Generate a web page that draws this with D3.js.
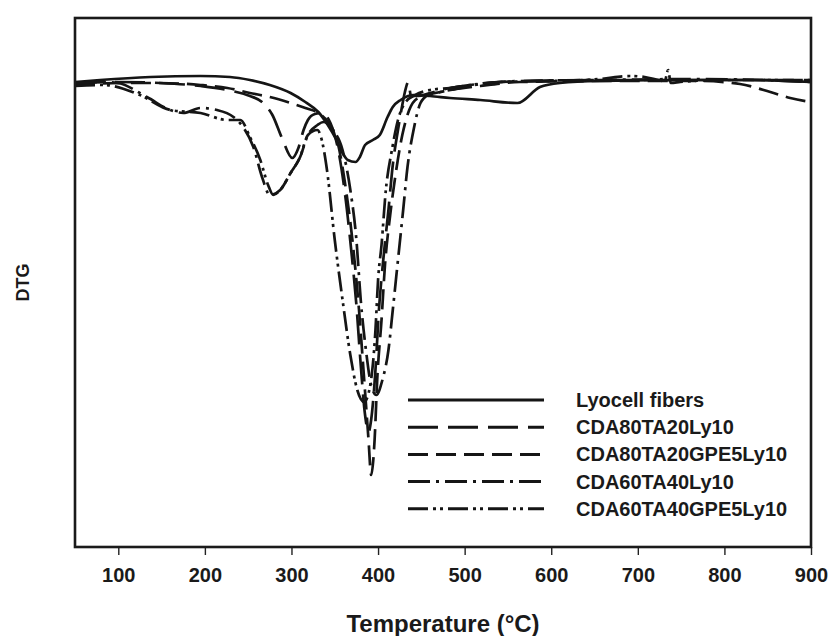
<!DOCTYPE html>
<html>
<head>
<meta charset="utf-8">
<script src="https://cdn.jsdelivr.net/npm/d3@7"></script>
<style>
  html, body { margin: 0; padding: 0; background: #fff; }
  svg { display: block; }
  text { font-family: "Liberation Sans", Arial, sans-serif; font-weight: bold; fill: #1a1a1a; }
</style>
</head>
<body>
<svg id="chart" width="829" height="636"></svg>
<script>
// DTG curves (arbitrary units, 0 = flat baseline) against temperature in °C
const lyocellT   = [50,79,137,195,229,252,275,299,316,331,342,352,359,365,374,379,385,394,402,411,417,426,441,460,483,518,561,587,610,656,772,830,900];
const lyocellDTG = [-0.02,0,0.03,0.04,0.03,0,-0.05,-0.13,-0.22,-0.32,-0.45,-0.60,-0.73,-0.80,-0.82,-0.77,-0.65,-0.60,-0.55,-0.37,-0.27,-0.20,-0.15,-0.16,-0.18,-0.20,-0.23,-0.07,-0.03,-0.01,0,0,-0.02];

const cda80T   = [50,102,148,195,226,252,266,278,289,301,308,314,319,327,335,345,354,362,369,375,380,385,389,392,397,401,406,412,417,423,428,431,435,438,446,460,483,506,541,656,772,900];
const cda80DTG = [-0.03,-0.02,-0.03,-0.06,-0.10,-0.16,-0.22,-0.35,-0.58,-0.78,-0.68,-0.50,-0.40,-0.34,-0.33,-0.43,-0.70,-1.15,-1.70,-2.25,-2.85,-3.35,-3.52,-3.40,-2.90,-2.30,-1.80,-1.30,-0.85,-0.50,-0.25,-0.12,-0.02,-0.16,-0.16,-0.13,-0.08,-0.05,-0.02,0,0,0];

const cda80gpeT   = [50,102,148,195,226,252,275,299,316,331,342,354,363,371,378,384,389,392,396,399,404,408,414,421,428,436,446,472,518,564,656,772,818,853,876,900];
const cda80gpeDTG = [-0.05,-0.03,-0.03,-0.05,-0.08,-0.13,-0.17,-0.23,-0.28,-0.33,-0.42,-0.65,-1.10,-1.65,-2.30,-3.00,-3.60,-3.95,-3.60,-3.00,-2.40,-1.85,-1.35,-0.90,-0.55,-0.30,-0.18,-0.12,-0.06,-0.02,-0.01,-0.01,-0.04,-0.12,-0.18,-0.22];

const cda60T   = [50,79,99,133,160,175,195,214,233,244,256,266,275,287,299,310,319,330,337,348,359,368,375,380,386,392,398,405,412,417,423,429,434,441,449,458,472,495,518,564,656,772,841,900];
const cda60DTG = [-0.04,-0.02,-0.03,-0.17,-0.30,-0.33,-0.28,-0.30,-0.37,-0.47,-0.67,-0.97,-1.15,-1.10,-0.93,-0.77,-0.55,-0.45,-0.42,-0.50,-0.70,-1.10,-1.60,-2.20,-2.70,-3.05,-3.15,-3.00,-2.70,-2.30,-1.80,-1.30,-0.87,-0.50,-0.23,-0.15,-0.12,-0.08,-0.04,-0.01,0,0.01,0,-0.02];

const cda60gpeT   = [50,83,125,160,195,226,241,252,264,273,279,287,299,310,319,330,335,341,350,359,368,376,384,391,397,400,404,409,416,423,431,443,460,483,506,541,599,656,691,708,731,735,738,749,795,900];
const cda60gpeDTG = [-0.06,-0.05,-0.15,-0.30,-0.33,-0.40,-0.40,-0.57,-0.80,-1.05,-1.15,-1.10,-0.93,-0.77,-0.55,-0.50,-0.60,-0.90,-1.60,-2.20,-2.75,-3.10,-3.22,-3.05,-2.50,-2.00,-1.65,-1.10,-0.70,-0.40,-0.23,-0.15,-0.10,-0.08,-0.05,-0.02,-0.01,0.01,0.04,0.03,-0.01,0.10,-0.03,-0.02,0,0];

const seriesNames = ["Lyocell fibers", "CDA80TA20Ly10", "CDA80TA20GPE5Ly10", "CDA60TA40Ly10", "CDA60TA40GPE5Ly10"];
const seriesDash  = [null, "30,10", "20,8", "22,6,3,6", "20,5,3,4,3,5"];
const xTicks = [100, 200, 300, 400, 500, 600, 700, 800, 900];

const series = [
  { name: seriesNames[0], dash: seriesDash[0], t: lyocellT,  v: lyocellDTG },
  { name: seriesNames[1], dash: seriesDash[1], t: cda80T,    v: cda80DTG },
  { name: seriesNames[2], dash: seriesDash[2], t: cda80gpeT, v: cda80gpeDTG },
  { name: seriesNames[3], dash: seriesDash[3], t: cda60T,    v: cda60DTG },
  { name: seriesNames[4], dash: seriesDash[4], t: cda60gpeT, v: cda60gpeDTG }
];

const plot = { left: 75, right: 811, top: 18, bottom: 547 };
const svg = d3.select("#chart");

const x = d3.scaleLinear().domain([50, 900]).range([plot.left, plot.right]);
const y = d3.scaleLinear().domain([-4.67, 0.62]).range([plot.bottom, plot.top]);

svg.append("defs").append("clipPath").attr("id", "plotClip")
  .append("rect")
  .attr("x", plot.left).attr("y", plot.top)
  .attr("width", plot.right - plot.left).attr("height", plot.bottom - plot.top);

const line = d3.line()
  .x(d => x(d[0]))
  .y(d => y(d[1]))
  .curve(d3.curveMonotoneX);

const curves = svg.append("g").attr("clip-path", "url(#plotClip)");
series.forEach(s => {
  const pts = s.t.map((t, i) => [t, s.v[i]]);
  curves.append("path")
    .attr("d", line(pts))
    .attr("fill", "none")
    .attr("stroke", "#151515")
    .attr("stroke-width", 2.7)
    .attr("stroke-linejoin", "round")
    .attr("stroke-dasharray", s.dash);
});

// bottom axis: outward ticks, bold labels
const xAxis = d3.axisBottom(x).tickValues(xTicks).tickSize(8).tickPadding(13).tickFormat(d3.format("d"));
const gx = svg.append("g").attr("transform", `translate(0,${plot.bottom})`).call(xAxis);
gx.select(".domain").remove();
gx.selectAll(".tick line").attr("stroke", "#222").attr("stroke-width", 1.4);
gx.selectAll(".tick text")
  .style("font-family", '"Liberation Sans", Arial, sans-serif')
  .style("font-weight", "bold")
  .style("font-size", "20px")
  .attr("fill", "#1a1a1a");

// plot frame
svg.append("rect")
  .attr("x", plot.left).attr("y", plot.top)
  .attr("width", plot.right - plot.left).attr("height", plot.bottom - plot.top)
  .attr("fill", "none").attr("stroke", "#1a1a1a").attr("stroke-width", 2.6);

// axis titles
svg.append("text")
  .attr("x", (plot.left + plot.right) / 2).attr("y", 632)
  .attr("text-anchor", "middle")
  .style("font-size", "24px")
  .text("Temperature (°C)");

svg.append("text")
  .attr("transform", `translate(29,${(plot.top + plot.bottom) / 2}) rotate(-90)`)
  .attr("text-anchor", "middle")
  .style("font-size", "18px")
  .text("DTG");

// legend
const legend = svg.append("g");
const legendRowY = i => 400 + i * 27.2;
series.forEach((s, i) => {
  legend.append("line")
    .attr("x1", 408).attr("x2", 544)
    .attr("y1", legendRowY(i)).attr("y2", legendRowY(i))
    .attr("stroke", "#151515").attr("stroke-width", 3)
    .attr("stroke-dasharray", s.dash);
  legend.append("text")
    .attr("x", 576).attr("y", legendRowY(i) + 7)
    .style("font-size", "20px")
    .text(s.name);
});
</script>
</body>
</html>
